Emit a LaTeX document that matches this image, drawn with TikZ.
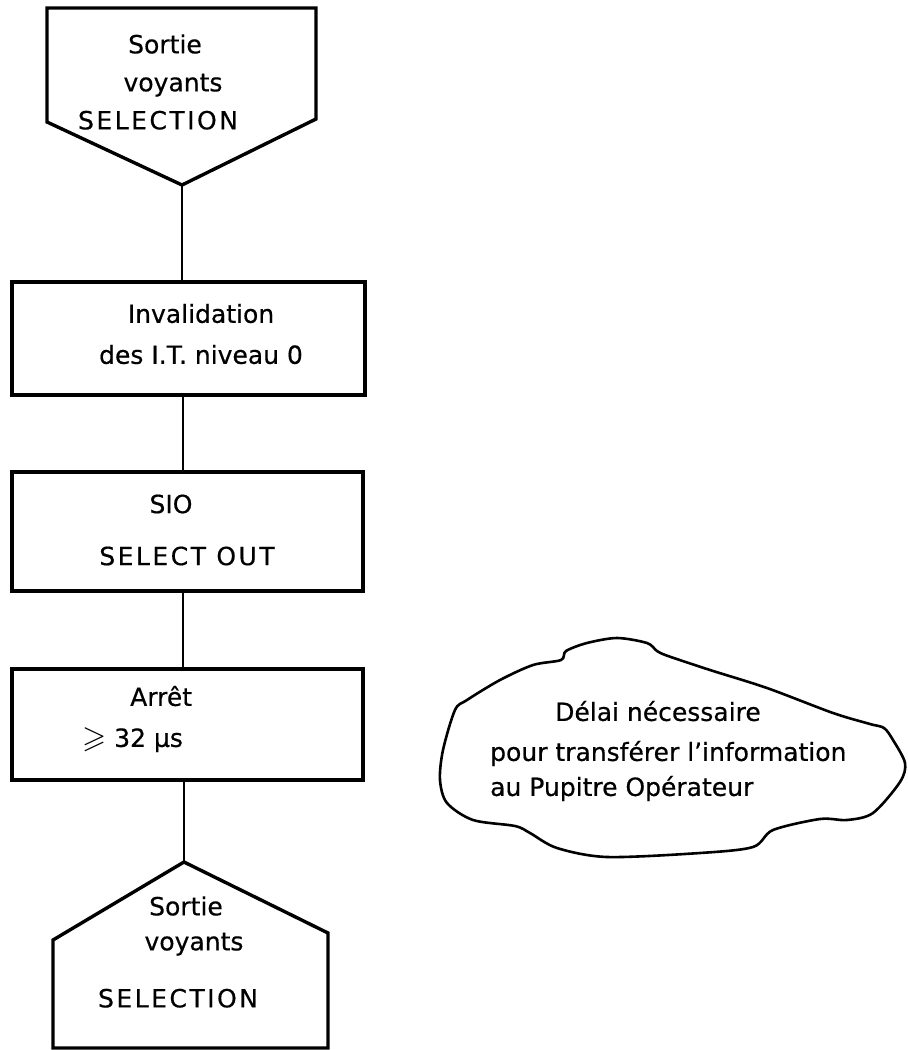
\documentclass[tikz,border=0pt]{standalone}
\usepackage{amssymb}
\usepackage{fontspec}
\setmainfont[FakeBold=0.5]{DejaVu Sans}
\newcommand\spaced[1]{{\addfontfeature{LetterSpace=10}#1}}
\begin{document}
\begin{tikzpicture}[x=1pt,y=-1pt,
  outline/.style={draw, line width=3.4pt, line join=miter},
  box/.style={draw, line width=3.4pt, inner sep=0pt},
  link/.style={line width=2.2pt},
  txt/.style={inner sep=0pt, font=\fontsize{25}{38}\selectfont},
  cloudline/.style={line width=2.6pt, line join=round}]
\useasboundingbox (0,0) rectangle (908,1050);

% top terminal (pentagon pointing down)
\coordinate (tA) at (182,185);
\draw[outline] (47,8) -- (316,8) -- (316,119) -- (tA) -- (47,122) -- cycle;
\node[txt, align=center] (ttop) at (165,82) {Sortie\\\hspace*{16pt}voyants\\\spaced{SELECTION}\hspace*{14pt}};

% process boxes
\node[box, minimum width=353pt, minimum height=113pt] (b1) at (188.5,338.5) {};
\node[txt, align=center] (t1) at (201,334) {Invalidation\\[3pt]des I.T. niveau 0};

\node[box, minimum width=351pt, minimum height=119pt] (b2) at (187.5,531.5) {};
\node[txt, align=center] (t2) at (187,530) {SIO\hspace*{32pt}\\[14pt]\spaced{SELECT OUT}};

\node[box, minimum width=351pt, minimum height=111pt] (b3) at (187.5,724.5) {};
\node[txt, align=left, anchor=west] (t3) at (82,719)
  {\hspace*{48pt}Arrêt\\[3pt]\raisebox{-1pt}{\fontsize{31}{31}\selectfont$\geqslant$} 32 µs};

% bottom terminal (pentagon pointing up)
\coordinate (bA) at (184,862);
\draw[outline] (bA) -- (328,933) -- (328,1048) -- (53,1048) -- (53,940) -- cycle;
\node[txt, align=center] (tbot) at (186,952)
  {Sortie\\[-3pt]\hspace*{16pt}voyants\\[19pt]\spaced{SELECTION}\hspace*{16pt}};

% connectors
\coordinate (col) at (183,0);
\draw[link] (tA) -- (tA |- b1.north);
\draw[link] (b1.south -| col) -- (b2.north -| col);
\draw[link] (b2.south -| col) -- (b3.north -| col);
\draw[link] (b3.south -| bA) -- (bA);

% annotation cloud
\draw[cloudline] plot[smooth cycle, tension=0.5] coordinates {
  (467,700) (500,680) (533,665) (561,660) (566,651) (587,643) (617,638)
  (647,643) (657,651) (668,656) (710,670) (767,688) (833,713) (870,724)
  (884,728) (893,740) (905,763) (900,782) (873,813) (847,820) (820,819)
  (773,830) (753,847) (700,853) (607,857) (557,848) (530,833) (515,826)
  (473,820) (447,803) (440,780) (443,750) (455,710)};
\node[txt, align=left, anchor=west] (note) at (490,751)
  {\hspace*{65pt}Délai nécessaire\\[2pt]pour transférer l’information\\[-3pt]au Pupitre Opérateur};
\end{tikzpicture}
\end{document}
